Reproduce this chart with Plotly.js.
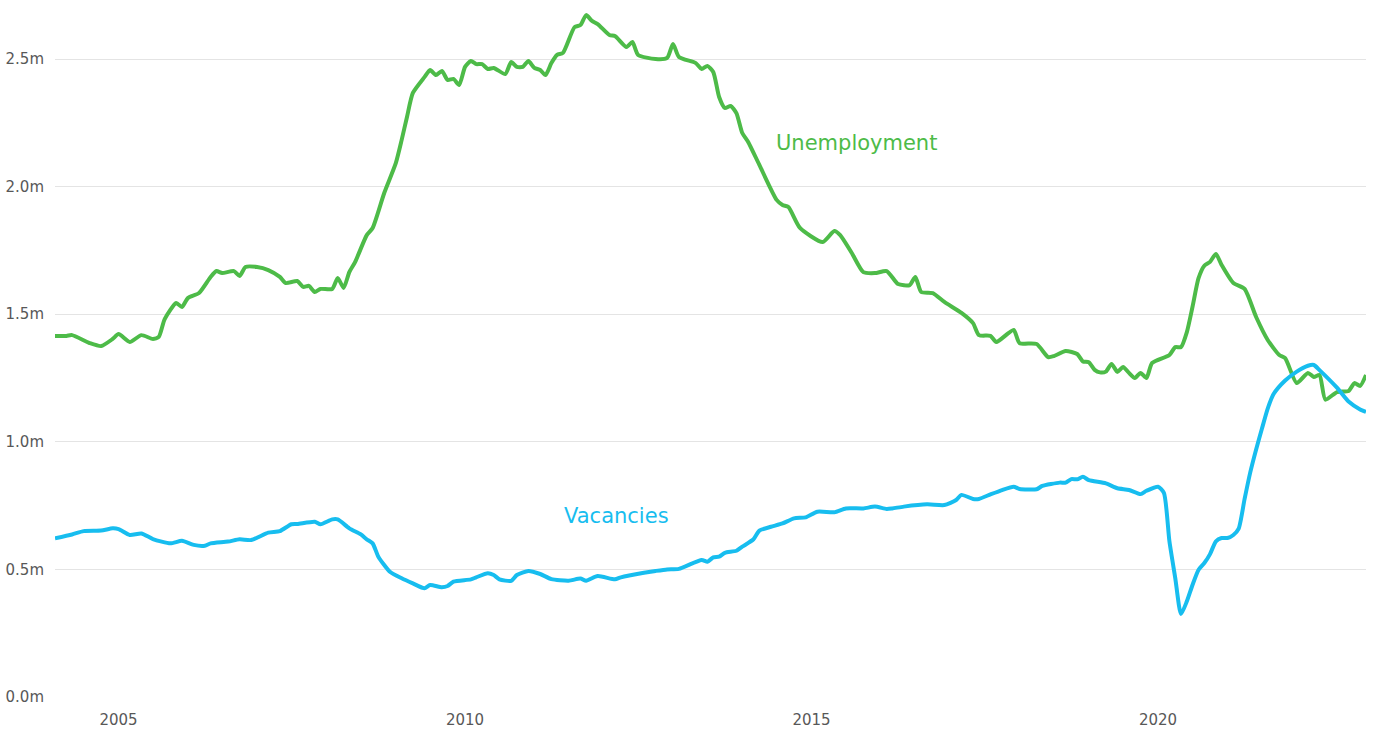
<!DOCTYPE html>
<html>
<head>
<meta charset="utf-8">
<script src="https://cdn.plot.ly/plotly-3.0.1.min.js"></script>
<style>
  html, body { margin: 0; padding: 0; background: #ffffff; }
  #chart { width: 1375px; height: 729px; }
</style>
</head>
<body>
<div id="chart"></div>
<script>
// Unemployment (millions)
const unempDates = [
  "2004-02","2004-04","2004-05","2004-08","2004-10","2004-12","2005-01","2005-03","2005-05","2005-07",
  "2005-08","2005-09","2005-11","2005-12","2006-01","2006-03","2006-05","2006-06","2006-07","2006-09",
  "2006-10","2006-11","2007-01","2007-03","2007-05","2007-06","2007-08","2007-09","2007-10","2007-11",
  "2007-12","2008-02","2008-03","2008-04","2008-05","2008-06","2008-08","2008-09","2008-11","2009-01",
  "2009-02","2009-03","2009-04","2009-06","2009-07","2009-08","2009-09","2009-10","2009-11","2009-12",
  "2010-01","2010-02","2010-03","2010-04","2010-05","2010-06","2010-08","2010-09","2010-10","2010-11",
  "2010-12","2011-01","2011-02","2011-03","2011-04","2011-05","2011-06","2011-08","2011-09","2011-10",
  "2011-11","2011-12","2012-02","2012-03","2012-05","2012-06","2012-07","2012-10","2012-12","2013-01",
  "2013-02","2013-05","2013-06","2013-07","2013-08","2013-09","2013-10","2013-11","2013-12","2014-01",
  "2014-02","2014-04","2014-07","2014-08","2014-09","2014-11","2015-03","2015-05","2015-06","2015-08",
  "2015-10","2015-12","2016-02","2016-04","2016-06","2016-07","2016-08","2016-10","2016-12","2017-03",
  "2017-05","2017-06","2017-08","2017-09","2017-12","2018-01","2018-04","2018-06","2018-07","2018-09",
  "2018-11","2018-12","2019-01","2019-02","2019-03","2019-04","2019-05","2019-06","2019-07","2019-08",
  "2019-09","2019-10","2019-11","2019-12","2020-03","2020-04","2020-05","2020-06","2020-07","2020-08",
  "2020-09","2020-10","2020-11","2020-12","2021-02","2021-04","2021-06","2021-08","2021-10","2021-11",
  "2022-01","2022-03","2022-04","2022-05","2022-06","2022-08","2022-10","2022-11","2022-12","2023-01"
];
const unempValues = [
  1.415,1.415,1.418,1.387,1.375,1.403,1.422,1.391,1.418,1.403,
  1.411,1.481,1.544,1.528,1.563,1.583,1.646,1.669,1.661,1.669,
  1.650,1.685,1.685,1.673,1.646,1.622,1.630,1.607,1.611,1.587,
  1.599,1.599,1.642,1.603,1.665,1.705,1.810,1.838,1.975,2.092,
  2.183,2.273,2.367,2.429,2.457,2.437,2.453,2.418,2.422,2.398,
  2.469,2.492,2.480,2.480,2.461,2.465,2.441,2.488,2.469,2.469,
  2.492,2.465,2.457,2.437,2.484,2.516,2.524,2.625,2.633,2.672,
  2.649,2.637,2.594,2.590,2.547,2.567,2.516,2.500,2.504,2.559,
  2.508,2.484,2.461,2.473,2.449,2.351,2.308,2.316,2.288,2.210,
  2.175,2.085,1.948,1.928,1.920,1.838,1.783,1.826,1.810,1.740,
  1.665,1.661,1.669,1.618,1.614,1.646,1.587,1.583,1.548,1.505,
  1.465,1.418,1.415,1.391,1.438,1.387,1.383,1.332,1.336,1.356,
  1.344,1.315,1.312,1.282,1.272,1.275,1.305,1.274,1.293,1.270,
  1.250,1.270,1.250,1.309,1.340,1.371,1.371,1.430,1.530,1.640,
  1.690,1.705,1.736,1.693,1.622,1.599,1.489,1.399,1.340,1.328,
  1.230,1.270,1.254,1.262,1.165,1.195,1.199,1.230,1.219,1.262
];

// Vacancies (millions)
const vacDates = [
  "2004-02","2004-05","2004-07","2004-10","2004-12","2005-01","2005-03","2005-05","2005-07","2005-10",
  "2005-12","2006-02","2006-04","2006-05","2006-08","2006-10","2006-12","2007-03","2007-05","2007-07",
  "2007-08","2007-11","2007-12","2008-02","2008-03","2008-05","2008-07","2008-08","2008-09","2008-10",
  "2008-12","2009-02","2009-04","2009-06","2009-07","2009-09","2009-10","2009-11","2010-02","2010-03",
  "2010-05","2010-06","2010-07","2010-09","2010-10","2010-12","2011-02","2011-04","2011-07","2011-09",
  "2011-10","2011-12","2012-03","2012-04","2012-08","2012-10","2012-12","2013-02","2013-06","2013-07",
  "2013-08","2013-09","2013-10","2013-12","2014-01","2014-03","2014-04","2014-06","2014-08","2014-10",
  "2014-12","2015-02","2015-05","2015-07","2015-10","2015-12","2016-02","2016-03","2016-05","2016-09",
  "2016-12","2017-02","2017-03","2017-05","2017-06","2017-08","2017-10","2017-12","2018-01","2018-04",
  "2018-05","2018-08","2018-09","2018-10","2018-11","2018-12","2019-01","2019-04","2019-06","2019-08",
  "2019-10","2019-11","2020-01","2020-02","2020-03","2020-04","2020-05","2020-06","2020-07","2020-08",
  "2020-09","2020-10","2020-11","2020-12","2021-01","2021-02","2021-03","2021-04","2021-05","2021-06",
  "2021-07","2021-08","2021-09","2021-11","2022-01","2022-03","2022-04","2022-05","2022-08","2022-10",
  "2022-12","2023-01"
];
const vacValues = [
  0.622,0.637,0.650,0.652,0.661,0.658,0.635,0.641,0.619,0.602,
  0.612,0.596,0.593,0.602,0.609,0.618,0.615,0.644,0.650,0.677,
  0.678,0.687,0.677,0.696,0.696,0.661,0.637,0.618,0.602,0.550,
  0.491,0.465,0.445,0.426,0.439,0.430,0.435,0.452,0.461,0.469,
  0.485,0.478,0.461,0.455,0.478,0.494,0.482,0.462,0.456,0.464,
  0.456,0.474,0.461,0.469,0.487,0.494,0.500,0.502,0.537,0.530,
  0.547,0.550,0.565,0.573,0.589,0.618,0.652,0.667,0.680,0.700,
  0.704,0.726,0.724,0.739,0.739,0.746,0.737,0.739,0.746,0.755,
  0.752,0.772,0.792,0.776,0.776,0.794,0.811,0.824,0.815,0.814,
  0.827,0.840,0.840,0.854,0.853,0.863,0.850,0.837,0.818,0.811,
  0.795,0.808,0.824,0.800,0.610,0.465,0.325,0.375,0.440,0.498,
  0.525,0.560,0.610,0.623,0.623,0.635,0.660,0.775,0.880,0.970,
  1.050,1.130,1.187,1.240,1.275,1.298,1.301,1.281,1.212,1.158,
  1.127,1.117
];

const yTicks = [0, 0.5, 1.0, 1.5, 2.0, 2.5];
const yTickText = ["0.0m", "0.5m", "1.0m", "1.5m", "2.0m", "2.5m"];
const seriesNames = ["Unemployment", "Vacancies"];

const green = "#4dbb48";
const blue = "#17bdef";

const traces = [
  {
    x: unempDates, y: unempValues, name: seriesNames[0], type: "scatter", mode: "lines",
    line: { color: green, width: 4, shape: "spline", smoothing: 0.6 }, hoverinfo: "skip"
  },
  {
    x: vacDates, y: vacValues, name: seriesNames[1], type: "scatter", mode: "lines",
    line: { color: blue, width: 4, shape: "spline", smoothing: 0.6 }, hoverinfo: "skip"
  }
];

const layout = {
  width: 1375, height: 729,
  margin: { l: 55, r: 9, t: 5, b: 32 },
  paper_bgcolor: "#ffffff", plot_bgcolor: "#ffffff",
  showlegend: false,
  font: { family: "DejaVu Sans, sans-serif", color: "#585858", size: 15 },
  xaxis: {
    type: "date",
    range: ["2004-02-01", "2023-01-01"],
    tick0: "2005-01-01", dtick: "M60", tickformat: "%Y",
    showgrid: false, zeroline: false, showline: false, ticks: "",
    ticklabelstandoff: 12,
    tickfont: { family: "DejaVu Sans, sans-serif", size: 15, color: "#585858" }
  },
  yaxis: {
    range: [0, 2.7116],
    tickmode: "array", tickvals: yTicks, ticktext: yTickText,
    showgrid: true, gridcolor: "#e4e4e4", gridwidth: 1,
    zeroline: false, showline: false, ticks: "",
    ticklabelstandoff: 10,
    tickfont: { family: "DejaVu Sans, sans-serif", size: 15, color: "#585858" }
  },
  annotations: [
    {
      text: seriesNames[0], x: "2015-08-28", y: 2.171, xref: "x", yref: "y",
      showarrow: false, xanchor: "center", yanchor: "middle",
      font: { family: "DejaVu Sans, sans-serif", size: 21, color: green }
    },
    {
      text: seriesNames[1], x: "2012-03-10", y: 0.709, xref: "x", yref: "y",
      showarrow: false, xanchor: "center", yanchor: "middle",
      font: { family: "DejaVu Sans, sans-serif", size: 21, color: blue }
    }
  ]
};

Plotly.newPlot("chart", traces, layout, { displayModeBar: false, staticPlot: true });
</script>
</body>
</html>
